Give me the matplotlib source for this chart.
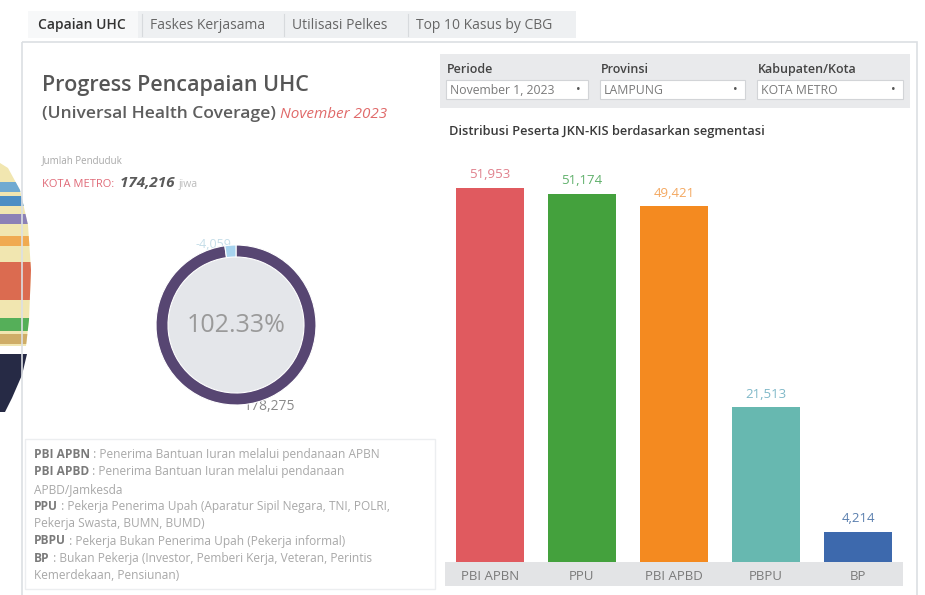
import matplotlib

matplotlib.use("Agg")
import matplotlib.pyplot as plt
from matplotlib.patches import Rectangle, Polygon, Circle

plt.rcParams["font.family"] = ["Open Sans", "DejaVu Sans"]

# data
segments = ["PBI APBN", "PPU", "PBI APBD", "PBPU", "BP"]
peserta = [51953, 51174, 49421, 21513, 4214]
bar_colors = ["#e05a5f", "#44a13d", "#f48a20", "#67b8b0", "#3d69ad"]
label_colors = ["#e0808c", "#5fb06a", "#f4a860", "#7fb8c8", "#5a7fae"]

donut_vals = [178275, 4059]
donut_labels = ["178,275", "-4,059"]
penduduk = "174,216"
capaian = "102.33%"

tabs = ["Capaian UHC", "Faskes Kerjasama", "Utilisasi Pelkes", "Top 10 Kasus by CBG"]
filters = [("Periode", "November 1, 2023"), ("Provinsi", "LAMPUNG"),
           ("Kabupaten/Kota", "KOTA METRO")]
definitions = [
    [("PBI APBN", True), (" : Penerima Bantuan Iuran melalui pendanaan APBN", False)],
    [("PBI APBD", True), (" : Penerima Bantuan Iuran melalui pendanaan", False)],
    [("APBD/Jamkesda", False)],
    [("PPU", True), (" : Pekerja Penerima Upah (Aparatur Sipil Negara, TNI, POLRI,", False)],
    [("Pekerja Swasta, BUMN, BUMD)", False)],
    [("PBPU", True), (" : Pekerja Bukan Penerima Upah (Pekerja informal)", False)],
    [("BP", True), (" : Bukan Pekerja (Investor, Pemberi Kerja, Veteran, Perintis", False)],
    [("Kemerdekaan, Pensiunan)", False)],
]

W, H = 925, 595
fig = plt.figure(figsize=(W / 100, H / 100), dpi=100, facecolor="white")
bg = fig.add_axes([0, 0, 1, 1])
bg.set_xlim(0, W)
bg.set_ylim(H, 0)
bg.axis("off")
renderer = fig.canvas.get_renderer()


def runs(x, y, parts, **kw):
    """draw text pieces one after another on one baseline"""
    for text, style in parts:
        t = bg.text(x, y, text, va="baseline", **kw, **style)
        bb = t.get_window_extent(renderer)
        x += bb.width
    return x


# partial logo on the left edge (only its right rim shows)
rim = Polygon([(0, 163), (8, 168), (20, 190), (28, 225), (31, 270),
               (29, 320), (26, 346), (0, 346)], color="#f1e6b0", lw=0)
bg.add_patch(rim)
for y0, y1, c in ((182, 192, "#5aa0d8"), (196, 206, "#2f7fc8"),
                  (214, 224, "#7a6fb8"), (236, 246, "#f0a040"),
                  (262, 300, "#d8553f"), (318, 331, "#3aa64a"),
                  (334, 344, "#c9a35a")):
    band = Rectangle((0, y0), 32, y1 - y0, color=c, lw=0, alpha=0.85)
    bg.add_patch(band)
    band.set_clip_path(rim)
bg.add_patch(Polygon([(0, 354), (27, 354), (22, 375), (12, 398), (5, 412),
                      (0, 412)], color="#262a45", lw=0))

# panel frame
bg.add_patch(Rectangle((22, 42), 895, 560, fill=False, ec="#dcdfe3", lw=1.2))

# tab strip
bg.add_patch(Rectangle((28, 11), 548, 27, color="#eef0f2", lw=0))
bg.add_patch(Rectangle((28, 11), 110, 27, color="#f7f8f9", lw=0))
tx = [38, 150, 292, 416]
for i, (x, lab) in enumerate(zip(tx, tabs)):
    bg.text(x, 29, lab, fontsize=10, color="#333" if i == 0 else "#666",
            weight="semibold" if i == 0 else "normal", va="baseline")
    if i:
        bg.plot([x - 8, x - 8], [14, 36], color="#d7dadd", lw=0.8)

# titles
bg.text(42, 91, "Progress Pencapaian UHC", fontsize=15.5, weight="semibold",
        color="#565656", va="baseline")
runs(42, 118, [("(Universal Health Coverage) ",
                dict(fontsize=12.6, weight="semibold", color="#5e5e5e")),
               ("November 2023",
                dict(fontsize=11, style="italic", color="#e06a6a"))])
bg.text(42, 163, "Jumlah Penduduk", fontsize=7, color="#a8a8a8",
        va="baseline")
runs(42, 187, [("KOTA METRO:  ", dict(fontsize=8, color="#e06a78")),
               (penduduk + " ", dict(fontsize=11, weight="bold",
                                     style="italic", color="#5a5a5a")),
               ("jiwa", dict(fontsize=7.5, color="#bbbbbb"))])

# donut
cx, cy, r = 236, 325, 80
dax = fig.add_axes([(cx - r) / W, (H - cy - r) / H, 2 * r / W, 2 * r / H])
dax.add_patch(Circle((0, 0), 0.86, color="#e4e6ea", lw=0))
dax.pie(donut_vals, colors=["#574672", "#a7d3ee"], startangle=90,
        counterclock=False, radius=1,
        wedgeprops=dict(width=0.15, lw=0.8, edgecolor="white"))
dax.set_xlim(-1, 1)
dax.set_ylim(-1, 1)
dax.axis("off")
dax.text(0, 0, capaian, fontsize=18, color="#9a9a9a", ha="center",
         va="center")
bg.text(270, 406, donut_labels[0], fontsize=10, color="#8a8a8a", ha="center",
        va="center")
bg.text(213, 244, donut_labels[1], fontsize=9, color="#c5dde8", ha="center",
        va="center")

# definitions box
bg.add_patch(Rectangle((25, 439), 410, 150, fill=False, ec="#eceef0", lw=1))
for i, line in enumerate(definitions):
    y = 458 + i * 17.3
    runs(34, y, [(t, dict(fontsize=8.6, color="#7a7a7a" if b else "#a8a8a8",
                          weight="bold" if b else "normal"))
                 for t, b in line])

# filter bar
bg.add_patch(Rectangle((440, 54), 470, 54, color="#e9eaec", lw=0))
for (lab, val), x0, x1 in zip(filters, (446, 600, 757), (588, 745, 903)):
    bg.text(x0 + 1, 73, lab, fontsize=9, weight="semibold", color="#444",
            va="baseline")
    bg.add_patch(Rectangle((x0, 80), x1 - x0, 19, fc="white", ec="#d2d4d7",
                           lw=0.8))
    bg.text(x0 + 4, 94, val, fontsize=8.8, color="#7a7a7a", va="baseline")
    bg.text(x1 - 10, 90, "•", fontsize=9, color="#555", ha="center",
            va="center")

bg.text(449, 135, "Distribusi Peserta JKN-KIS berdasarkan segmentasi",
        fontsize=9.3, weight="semibold", color="#3a3a3a", va="baseline")

# bar chart
bg.add_patch(Rectangle((445, 562), 458, 24, color="#e3e4e6", lw=0))
x_left, x_right, y_base, y_top = 445, 903, 562, 170
bax = fig.add_axes([x_left / W, (H - y_base) / H, (x_right - x_left) / W,
                    (y_base - y_top) / H])
bax.patch.set_alpha(0)
idx = range(len(segments))
bax.bar(idx, peserta, width=0.74, color=bar_colors)
bax.set_xlim(-0.489, 4.489)
bax.set_ylim(0, (y_base - y_top) / 7.2 * 1000)
for i, v in enumerate(peserta):
    bax.text(i, v + 900, f"{v:,}", ha="center", va="bottom", fontsize=9.5,
             color=label_colors[i])
bax.set_xticks(list(idx), segments)
bax.tick_params(axis="x", length=0, pad=6, labelsize=9.5, labelcolor="#7a7a7a")
bax.set_yticks([])
for sp in bax.spines.values():
    sp.set_visible(False)

fig.savefig("out.png", dpi=100, facecolor="white")
